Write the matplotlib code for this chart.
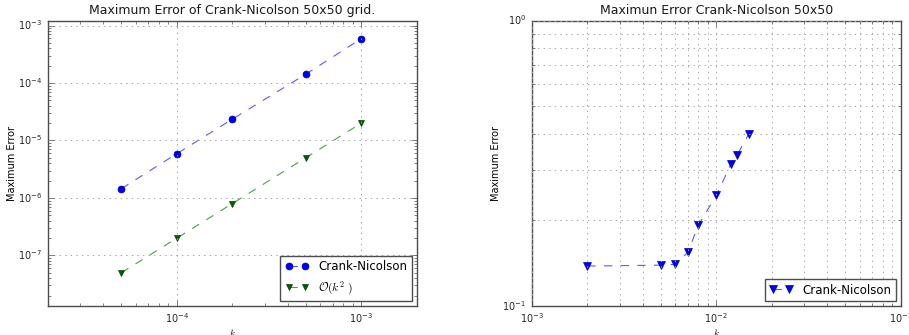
import matplotlib
matplotlib.use("Agg")
import matplotlib.pyplot as plt

plt.style.use('classic')

# Left plot data
k_left = [5e-5, 1e-4, 2e-4, 5e-4, 1e-3]
err_cn = [1.45e-6, 5.9e-6, 2.35e-5, 1.42e-4, 5.9e-4]
err_order = [5e-8, 2e-7, 8e-7, 5e-6, 2e-5]

# Right plot data
k_right = [0.002, 0.005, 0.006, 0.007, 0.008, 0.01, 0.012, 0.013, 0.015]
err_right = [0.138, 0.139, 0.140, 0.154, 0.192, 0.244, 0.314, 0.339, 0.401]

BLUE_LINE = '#5a5aff'
GREEN_LINE = '#4aa04a'

fig = plt.figure(figsize=(9.09, 3.35), dpi=100, facecolor='white')


def style_axes(ax, minor_grid):
    for sp in ax.spines.values():
        sp.set_color('0.3')
        sp.set_linewidth(1.0)
    ax.tick_params(which='both', colors='0.3', labelcolor='0.15', labelsize=7)
    ax.grid(True, which='major', color='0.65', linestyle=':', linewidth=0.7)
    if minor_grid:
        ax.grid(True, which='minor', color='0.65', linestyle=':', linewidth=0.7)
    else:
        ax.grid(False, which='minor')


ax1 = fig.add_axes([0.0528, 0.0866, 0.4056, 0.852])
ax1.loglog(k_left, err_cn, 'o--', color=BLUE_LINE, label='Crank-Nicolson',
           markersize=5, linewidth=0.8, markerfacecolor='#0000e0',
           markeredgecolor='#0000c0', markeredgewidth=0.5)
ax1.loglog(k_left, err_order, 'v--', color=GREEN_LINE, label=r'$\mathcal{O}(k^2\ )$',
           markersize=5, linewidth=0.8, markerfacecolor='#006000',
           markeredgecolor='#004000', markeredgewidth=0.5)
ax1.set_xlim(2e-5, 2e-3)
ax1.set_ylim(1.32e-8, 1.22e-3)
style_axes(ax1, False)
ax1.set_title('Maximum Error of Crank-Nicolson 50x50 grid.', fontsize=9, color='0.1')
ax1.set_xlabel('$k$', fontsize=7, labelpad=1)
ax1.set_ylabel('Maximum Error', fontsize=7, labelpad=1)
leg1 = ax1.legend(loc='lower right', fontsize=8.5, numpoints=2, borderaxespad=0.4)
leg1.get_frame().set_edgecolor('0.3')

ax2 = fig.add_axes([0.585, 0.0866, 0.406, 0.852])
ax2.loglog(k_right, err_right, 'v--', color=BLUE_LINE, label='Crank-Nicolson',
           markersize=5.5, linewidth=0.8, markerfacecolor='#0000e0',
           markeredgecolor='#0000c0', markeredgewidth=0.5)
ax2.set_xlim(1e-3, 1e-1)
ax2.set_ylim(0.1, 1.0)
style_axes(ax2, True)
ax2.set_title('Maximun Error Crank-Nicolson 50x50', fontsize=9, color='0.1')
ax2.set_xlabel('$k$', fontsize=7, labelpad=1)
ax2.set_ylabel('Maximum Error', fontsize=7, labelpad=1)
leg2 = ax2.legend(loc='lower right', fontsize=8.5, numpoints=2, borderaxespad=0.4)
leg2.get_frame().set_edgecolor('0.3')

fig.savefig('out.png', dpi=100, facecolor='white')
